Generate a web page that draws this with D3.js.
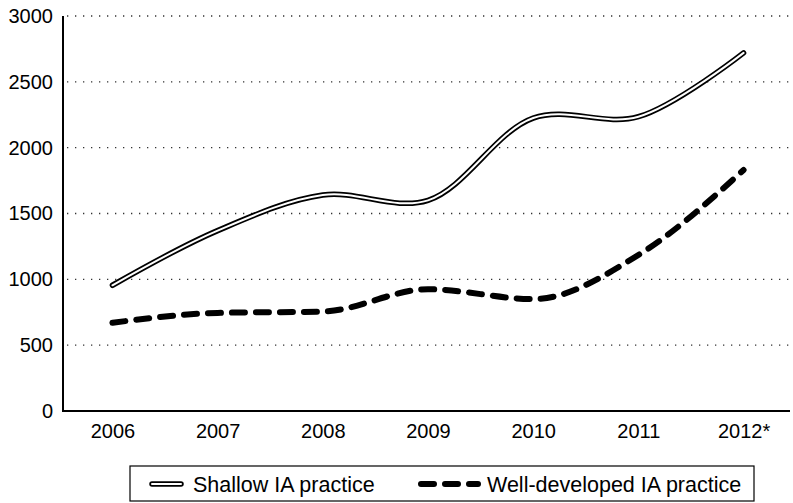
<!DOCTYPE html>
<html lang="en">
<head>
  <meta charset="UTF-8">
  <title>Shallow vs well-developed IA practice</title>
  <script src="https://d3js.org/d3.v7.min.js"></script>
  <style>
    body { margin: 0; background: #fff; }
    svg { display: block; font-family: "Liberation Sans", Arial, sans-serif; }
    .axis text { font-size: 20px; fill: #000; }
    .axis path { stroke: #000; stroke-width: 2; }
    .grid-line { stroke: #333; stroke-width: 1.3; stroke-dasharray: 1.3 6.7; }
    .legend-text { font-size: 21.5px; fill: #000; }
  </style>
</head>
<body>
  <div id="chart"></div>
  <script>
    // values
    const years = ["2006", "2007", "2008", "2009", "2010", "2011", "2012*"];
    const shallow = [955, 1370, 1640, 1600, 2225, 2235, 2720];
    const developed = [670, 745, 755, 925, 850, 1185, 1830];
    const yTicks = [0, 500, 1000, 1500, 2000, 2500, 3000];
    const seriesNames = ["Shallow IA practice", "Well-developed IA practice"];

    const svgWidth = 793, svgHeight = 503;
    const margin = { top: 16, right: 0, bottom: 92, left: 63 };
    const width = svgWidth - margin.left - margin.right;
    const height = svgHeight - margin.top - margin.bottom;

    const svg = d3.select("#chart").append("svg")
      .attr("width", svgWidth)
      .attr("height", svgHeight);

    const g = svg.append("g")
      .attr("transform", `translate(${margin.left},${margin.top})`);

    const x = d3.scalePoint().domain(years).range([0, width]).padding(0.47);
    const y = d3.scaleLinear().domain([0, 3000]).range([height, 0]);

    // dotted grid
    g.selectAll(".grid-line")
      .data(yTicks.filter(d => d > 0))
      .enter().append("line")
      .attr("class", "grid-line")
      .attr("x1", 4).attr("x2", width)
      .attr("y1", d => y(d)).attr("y2", d => y(d));

    g.append("g")
      .attr("class", "axis")
      .call(d3.axisLeft(y).tickValues(yTicks).tickSize(0).tickPadding(10).tickFormat(d3.format("d")))
      .call(a => a.select(".domain").attr("d", `M0,${height + 1}V0`));

    g.append("g")
      .attr("class", "axis")
      .attr("transform", `translate(0,${height})`)
      .call(d3.axisBottom(x).tickSize(0).tickPadding(13))
      .call(a => a.select(".domain").attr("d", `M0,0H${width - 3}`));

    const smooth = d3.line()
      .x((d, i) => x(years[i]))
      .y(d => y(d))
      .curve(d3.curveCatmullRom.alpha(0.5));

    const softer = d3.line()
      .x((d, i) => x(years[i]))
      .y(d => y(d))
      .curve(d3.curveMonotoneX);

    // double (outlined) line for shallow practice
    g.append("path").datum(shallow)
      .attr("d", smooth).attr("fill", "none")
      .attr("stroke", "#000").attr("stroke-width", 5.5)
      .attr("stroke-linecap", "round");
    g.append("path").datum(shallow)
      .attr("d", smooth).attr("fill", "none")
      .attr("stroke", "#fff").attr("stroke-width", 2)
      .attr("stroke-linecap", "round");

    // heavy dashed line for well-developed practice
    g.append("path").datum(developed)
      .attr("d", softer).attr("fill", "none")
      .attr("stroke", "#000").attr("stroke-width", 6)
      .attr("stroke-linecap", "round")
      .attr("stroke-dasharray", "13 11");

    // legend
    const legend = svg.append("g").attr("transform", "translate(130,466)");
    legend.append("rect")
      .attr("x", 0).attr("y", 0).attr("width", 624).attr("height", 35)
      .attr("fill", "none").attr("stroke", "#000").attr("stroke-width", 1.2);

    legend.append("line").attr("x1", 22).attr("x2", 51).attr("y1", 18).attr("y2", 18)
      .attr("stroke", "#000").attr("stroke-width", 5.5).attr("stroke-linecap", "round");
    legend.append("line").attr("x1", 22).attr("x2", 51).attr("y1", 18).attr("y2", 18)
      .attr("stroke", "#fff").attr("stroke-width", 2).attr("stroke-linecap", "round");
    legend.append("text").attr("class", "legend-text")
      .attr("x", 63).attr("y", 26).text(seriesNames[0]);

    legend.append("line").attr("x1", 291).attr("x2", 348).attr("y1", 18).attr("y2", 18)
      .attr("stroke", "#000").attr("stroke-width", 6).attr("stroke-linecap", "round")
      .attr("stroke-dasharray", "13 11");
    legend.append("text").attr("class", "legend-text")
      .attr("x", 357).attr("y", 26).text(seriesNames[1]);
  </script>
</body>
</html>
